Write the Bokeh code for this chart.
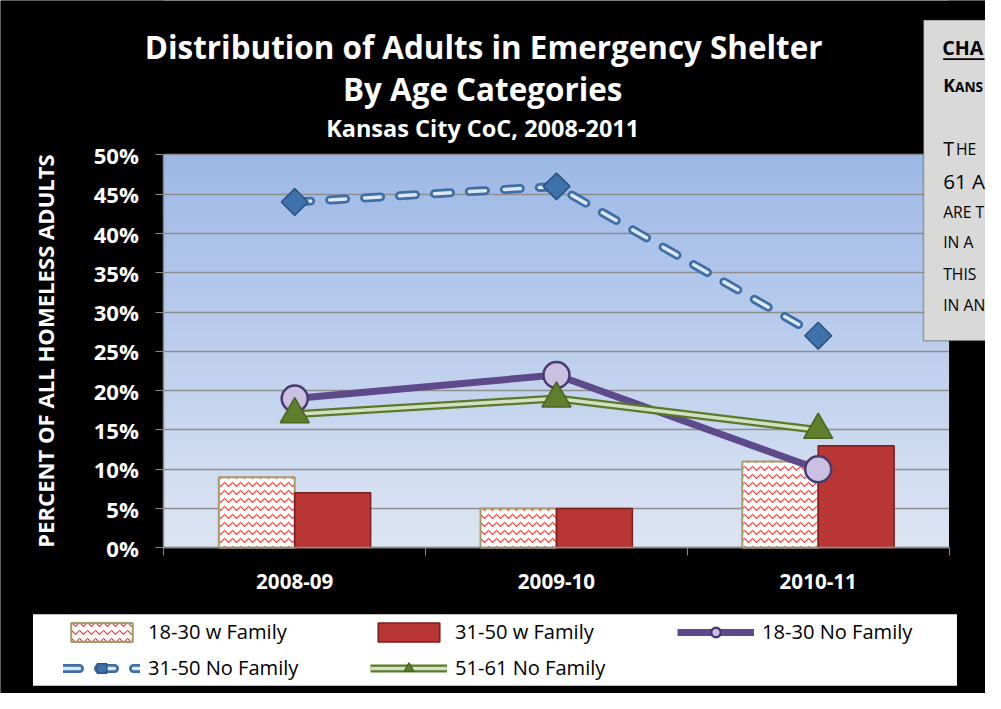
from bokeh.plotting import figure
from bokeh.models import (Label, BoxAnnotation, Legend, LegendItem, FixedTicker, Range1d)
from bokeh.embed import file_html
from bokeh.resources import INLINE
import numpy as np

# ---------------- data ----------------
categories = ["2008-09", "2009-10", "2010-11"]
w_family_18_30 = [9, 5, 11]
w_family_31_50 = [7, 5, 13]
no_family_18_30 = [19, 22, 10]
no_family_31_50 = [44, 46, 27]
no_family_51_61 = [17, 19, 15]
series_names = ["18-30 w Family", "31-50 w Family", "18-30 No Family",
                "31-50 No Family", "51-61 No Family"]
y_ticks = [0, 5, 10, 15, 20, 25, 30, 35, 40, 45, 50]
Y_MAX = 50

FONT = "Open Sans"
W, H = 985, 693
SX, SY = W / 1001, H / 709          # reference-pixel -> canvas-pixel
S = (SX + SY) / 2

def X(v):
    return v * SX

def Y(v):
    return v * SY

def fs(v):
    return f"{v * S:.1f}px"

# plot-area placement (reference pixels -> canvas)
PL, PR, PT, PB = X(166), X(964), Y(158), Y(560)
ncat = len(categories)
xpx = (PR - PL) / ncat
ypx = (PB - PT) / Y_MAX

p = figure(width=W, height=H, output_backend="svg", toolbar_location=None,
           x_range=Range1d(-PL / xpx, (W - PL) / xpx),
           y_range=Range1d(-(H - PB) / ypx, PB / ypx),
           min_border_left=0, min_border_right=0, min_border_top=0,
           min_border_bottom=0, background_fill_color="black",
           border_fill_color="black", outline_line_color=None, title=None)

# background gradient of plot area
top_c = np.array([157, 184, 230])
bot_c = np.array([221, 229, 243])
n = 60
for i in range(n):
    t = (i + 0.5) / n
    c = bot_c + (top_c - bot_c) * t
    col = "#%02x%02x%02x" % tuple(int(round(v)) for v in c)
    p.add_layout(BoxAnnotation(left=0, right=ncat, bottom=Y_MAX * i / n,
                               top=Y_MAX, fill_color=col, fill_alpha=1,
                               line_alpha=0, level="image"))

# axes
p.yaxis.fixed_location = 0
p.yaxis.bounds = (0, Y_MAX)
p.yaxis.ticker = FixedTicker(ticks=y_ticks, minor_ticks=[])
p.yaxis.major_label_overrides = {t: f"{t}%" for t in y_ticks}
p.yaxis.axis_line_color = "#8c8c8c"
p.yaxis.axis_line_width = 1.5
p.yaxis.major_tick_line_color = "#8c8c8c"
p.yaxis.major_tick_out = 8
p.yaxis.major_tick_in = 0
p.yaxis.major_label_standoff = 17
p.yaxis.major_label_text_color = "white"
p.yaxis.major_label_text_font = FONT
p.yaxis.major_label_text_font_style = "bold"
p.yaxis.major_label_text_font_size = fs(22.5)
p.yaxis.axis_label = "PERCENT OF ALL HOMELESS ADULTS"
p.yaxis.axis_label_text_color = "white"
p.yaxis.axis_label_text_font = FONT
p.yaxis.axis_label_text_font_style = "bold"
p.yaxis.axis_label_text_font_size = fs(22.5)
p.yaxis.axis_label_standoff = 30

centers = [i + 0.5 for i in range(ncat)]
p.xaxis.fixed_location = 0
p.xaxis.bounds = (0, ncat)
p.xaxis.ticker = FixedTicker(ticks=centers, minor_ticks=list(range(ncat + 1)))
p.xaxis.major_label_overrides = {c: lab for c, lab in zip(centers, categories)}
p.xaxis.axis_line_color = "#8c8c8c"
p.xaxis.axis_line_width = 1.5
p.xaxis.major_tick_line_color = None
p.xaxis.minor_tick_line_color = "#8c8c8c"
p.xaxis.minor_tick_out = 8
p.xaxis.minor_tick_in = 0
p.xaxis.major_label_standoff = 18
p.xaxis.major_label_text_color = "white"
p.xaxis.major_label_text_font = FONT
p.xaxis.major_label_text_font_style = "bold"
p.xaxis.major_label_text_font_size = fs(21)

p.ygrid.ticker = FixedTicker(ticks=y_ticks, minor_ticks=[])
p.ygrid.grid_line_color = "#8e8e8e"
p.ygrid.grid_line_width = 1.5
p.xgrid.grid_line_color = None
# hide grid lines outside the plot area
p.add_layout(BoxAnnotation(right=0, fill_color="black", fill_alpha=1,
                           line_alpha=0, level="underlay"))
p.add_layout(BoxAnnotation(left=ncat, fill_color="black", fill_alpha=1,
                           line_alpha=0, level="underlay"))

# bars
bw = 0.29
x_left = [c - bw / 2 for c in centers]
x_right = [c + bw / 2 for c in centers]
r_b1 = p.vbar(x=x_left, top=w_family_18_30, width=bw, bottom=0,
              fill_color="white", hatch_pattern="horizontal_wave",
              hatch_color="#e8413b", hatch_scale=8, hatch_weight=1.2,
              line_color="#a39c6c", line_width=2)
r_b2 = p.vbar(x=x_right, top=w_family_31_50, width=bw, bottom=0,
              fill_color="#b83735", line_color="#7a1d1d", line_width=1.5)

# 18-30 No Family
r_l1 = p.line(centers, no_family_18_30, line_width=7, line_color="#5e4a8a")
r_m1 = p.scatter(centers, no_family_18_30, marker="circle", size=26,
                 fill_color="#cac0e2", line_color="#4a3a70", line_width=2.5)

# 31-50 No Family
r_l2a = p.line(centers, no_family_31_50, line_width=9, line_color="#3e6ea6",
               line_dash="16 19", line_cap="round")
r_l2b = p.line(centers, no_family_31_50, line_width=3.5, line_color="#dde7f4",
               line_dash="16 19", line_cap="round")
r_m2 = p.scatter(centers, no_family_31_50, marker="square", angle=np.pi / 4,
                 size=19, fill_color="#3f71ab", line_color="#2a5283",
                 line_width=1.5)

# 51-61 No Family
r_l3a = p.line(centers, no_family_51_61, line_width=8, line_color="#5a7a28")
r_l3b = p.line(centers, no_family_51_61, line_width=3.5, line_color="#d4e0c6")
r_m3 = p.scatter(centers, no_family_51_61, marker="triangle", size=29,
                 fill_color="#5f7f2c", line_color="#4a6420", line_width=1.5)

def cbox(l, r, t, b, **kw):
    p.add_layout(BoxAnnotation(left=l, right=r, top=t, bottom=b,
                               left_units="canvas", right_units="canvas",
                               top_units="canvas", bottom_units="canvas",
                               fill_alpha=1, **kw))

# legend box
cbox(X(33), X(972), Y(628), Y(701), fill_color="white", line_alpha=0)

legend = Legend(items=[
    LegendItem(label=series_names[0], renderers=[r_b1]),
    LegendItem(label=series_names[1], renderers=[r_b2]),
    LegendItem(label=series_names[2], renderers=[r_l1, r_m1]),
    LegendItem(label=series_names[3], renderers=[r_l2a, r_l2b, r_m2]),
    LegendItem(label=series_names[4], renderers=[r_l3a, r_l3b, r_m3]),
], location=(57, 6), orientation="horizontal", ncols=3,
    glyph_width=77, glyph_height=24, label_height=24, label_width=213,
    label_standoff=8, spacing=9, padding=6,
    background_fill_alpha=0, border_line_alpha=0,
    label_text_font=FONT, label_text_font_size=fs(20.5),
    label_text_color="black")
p.add_layout(legend, "center")

# titles
def txt(x, y, s, size, bold=True, color="white", align="center", baseline="middle"):
    p.add_layout(Label(x=X(x), y=Y(y), x_units="canvas", y_units="canvas", text=s,
                       text_font=FONT, text_font_size=fs(size),
                       text_font_style="bold" if bold else "normal",
                       text_color=color, text_align=align,
                       text_baseline=baseline))

txt(491, 47, "Distribution of Adults in Emergency Shelter", 32)
txt(490, 90, "By Age Categories", 32)
txt(490, 130, "Kansas City CoC, 2008-2011", 24)

# side text box (cut off at the right edge)
cbox(X(938), X(1020), Y(20), Y(348), fill_color="#d9d9d9",
     line_color="#1a1a1a", line_width=1.5)
cbox(X(958), X(1000), Y(59), Y(61), fill_color="black", line_alpha=0)
txt(957, 48, "CHA", 20, color="black", align="left")
txt(958, 86, "K", 18, color="black", align="left")
txt(970, 88, "ANS", 14, color="black", align="left")
txt(958, 151, "T", 20, bold=False, color="black", align="left")
txt(971, 152, "HE", 16, bold=False, color="black", align="left")
txt(958, 185, "61 A", 21, bold=False, color="black", align="left")
txt(958, 216, "ARE T", 16, bold=False, color="black", align="left")
txt(958, 247, "IN A", 16, bold=False, color="black", align="left")
txt(958, 280, "THIS", 16, bold=False, color="black", align="left")
txt(958, 312, "IN AN", 16, bold=False, color="black", align="left")

open("out.html", "w").write(file_html(p, INLINE))
